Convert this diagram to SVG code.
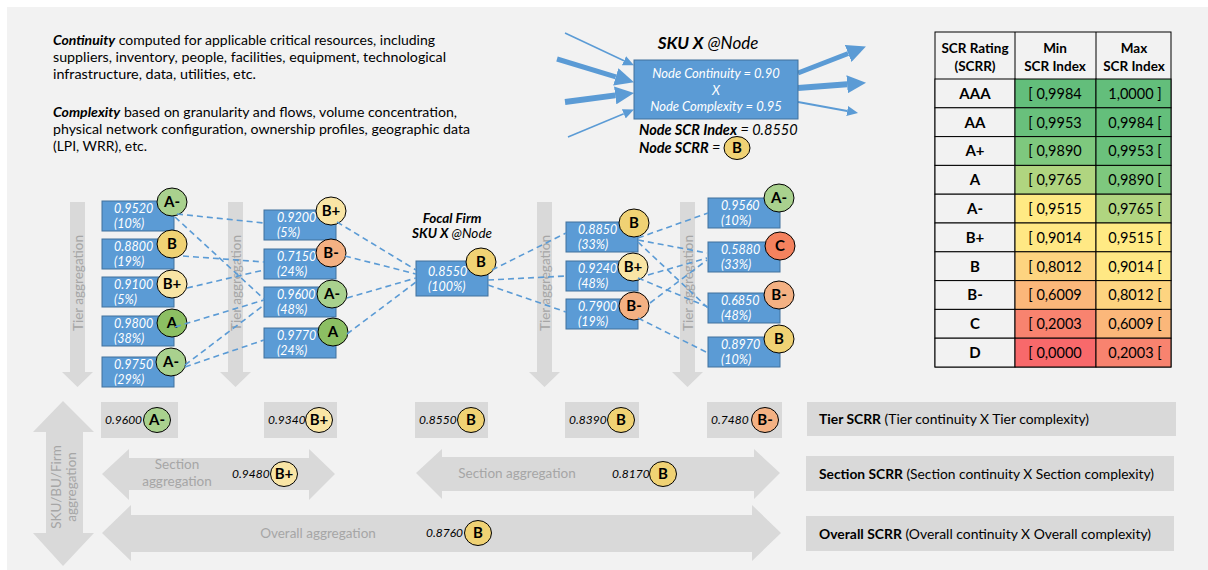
<svg xmlns="http://www.w3.org/2000/svg" width="1208" height="570" viewBox="0 0 1208 570">
  <style>
    text { font-family: Lato, "Open Sans", "Liberation Sans", sans-serif; }
    .para { font-size: 14px; fill: #000; }
    .b { font-weight: bold; }
    .i { font-style: italic; }
    .box { fill: #5b9bd5; stroke: #41719c; stroke-width: 1; }
    .val { font-size: 12.5px; font-style: italic; fill: #fff; }
    .badge { stroke: #000; stroke-width: 1; }
    .lbl { font-size: 15px; font-weight: bold; fill: #000; text-anchor: middle; }
    .am { fill: #a9d18e; }
    .a { fill: #8cbf63; }
    .bp { fill: #f9e5a5; }
    .bb { fill: #f0d274; }
    .bm { fill: #f4b183; }
    .c { fill: #f4825e; }
    .agg { fill: #d9d9d9; }
    .aggt { font-size: 13.5px; fill: #a6a6a6; text-anchor: middle; }
    .dash { stroke: #5b9bd5; stroke-width: 1.6; stroke-dasharray: 6 4; fill: none; }
    .flow { stroke: #5b9bd5; fill: none; }
    .cell { stroke: #000; stroke-width: 1; }
    .hdr { font-size: 13.5px; font-weight: bold; text-anchor: middle; fill: #000; }
    .rt { font-size: 15px; font-weight: bold; text-anchor: middle; fill: #000; }
    .num { font-size: 14.5px; text-anchor: middle; fill: #000; }
    .sv { font-size: 12px; font-style: italic; fill: #000; }
    .gbox { fill: #d9d9d9; }
    .legend { font-size: 14px; fill: #000; }
  </style>
  <defs>
    <marker id="headS" markerUnits="userSpaceOnUse" markerWidth="11" markerHeight="10" refX="0" refY="5" orient="auto">
      <path d="M0,0 L11,5 L0,10 z" fill="#5b9bd5"/>
    </marker>
    <marker id="headL" markerUnits="userSpaceOnUse" markerWidth="19" markerHeight="18" refX="0" refY="9" orient="auto">
      <path d="M0,0 L19,9 L0,18 z" fill="#5b9bd5"/>
    </marker>
  </defs>

  <!-- page -->
  <rect x="0" y="0" width="1208" height="570" fill="#ffffff"/>
  <rect x="7" y="7" width="1201" height="563" fill="#f2f2f2"/>

  <!-- notes -->
  <g id="notes">
    <text class="para" x="53" y="45" textLength="382" lengthAdjust="spacingAndGlyphs"><tspan class="b i">Continuity</tspan> computed for applicable critical resources, including</text>
    <text class="para" x="53" y="62" textLength="393" lengthAdjust="spacingAndGlyphs">suppliers, inventory, people, facilities, equipment, technological</text>
    <text class="para" x="53" y="79" textLength="203" lengthAdjust="spacingAndGlyphs">infrastructure, data, utilities, etc.</text>
    <text class="para" x="53" y="117" textLength="404" lengthAdjust="spacingAndGlyphs"><tspan class="b i">Complexity</tspan> based on granularity and flows, volume concentration,</text>
    <text class="para" x="53" y="134" textLength="417" lengthAdjust="spacingAndGlyphs">physical network configuration, ownership profiles, geographic data</text>
    <text class="para" x="53" y="151" textLength="94" lengthAdjust="spacingAndGlyphs">(LPI, WRR), etc.</text>
  </g>

  <!-- node detail -->
  <g id="sku-node">
    <text x="708" y="49" text-anchor="middle" font-size="17"><tspan class="b i">SKU X</tspan><tspan class="i"> @Node</tspan></text>
    <line class="flow" x1="565" y1="33" x2="624" y2="60.7" stroke-width="1.5" marker-end="url(#headS)"/>
    <line class="flow" x1="557" y1="59" x2="615.8" y2="76.8" stroke-width="5" marker-end="url(#headL)"/>
    <line class="flow" x1="565" y1="102" x2="615.2" y2="95.4" stroke-width="6" marker-end="url(#headL)"/>
    <line class="flow" x1="568" y1="137" x2="623.8" y2="113.8" stroke-width="1.5" marker-end="url(#headS)"/>
    <line class="flow" x1="798" y1="73" x2="848.2" y2="53.5" stroke-width="5" marker-end="url(#headL)"/>
    <line class="flow" x1="798" y1="88" x2="847.1" y2="84.3" stroke-width="6" marker-end="url(#headL)"/>
    <line class="flow" x1="798" y1="102" x2="847.2" y2="111" stroke-width="2" marker-end="url(#headS)"/>
    <rect class="box" x="634" y="60" width="164" height="59"/>
    <text x="716" y="78" text-anchor="middle" font-size="13" font-style="italic" fill="#fff">Node Continuity = 0.90</text>
    <text x="716" y="95" text-anchor="middle" font-size="13" font-style="italic" fill="#fff">X</text>
    <text x="716" y="111" text-anchor="middle" font-size="13" font-style="italic" fill="#fff">Node Complexity = 0.95</text>
    <text x="639" y="135" font-size="14.5"><tspan class="b i">Node SCR Index</tspan><tspan class="i"> = 0.8550</tspan></text>
    <text x="639" y="153" font-size="14.5"><tspan class="b i">Node SCRR</tspan><tspan class="i"> = </tspan></text>
    <ellipse class="badge bb" cx="737" cy="148" rx="13" ry="11.5"/>
    <text class="lbl" x="737" y="153">B</text>
  </g>

  <!-- rating scale -->
  <g id="rating-table">
    <rect class="cell" x="935" y="32" width="236" height="335" fill="#f2f2f2"/>
    <line class="cell" x1="1015" y1="32" x2="1015" y2="367"/>
    <line class="cell" x1="1096" y1="32" x2="1096" y2="367"/>
    <text class="hdr" x="975" y="53">SCR Rating</text>
    <text class="hdr" x="975" y="71">(SCRR)</text>
    <text class="hdr" x="1055" y="53">Min</text>
    <text class="hdr" x="1055" y="71">SCR Index</text>
    <text class="hdr" x="1134" y="53">Max</text>
    <text class="hdr" x="1134" y="71">SCR Index</text>
    <g>
      <rect class="cell" x="935" y="79" width="80" height="28.8" fill="#f2f2f2"/>
      <rect class="cell" x="1015" y="79" width="81" height="28.8" fill="#63be7b"/>
      <rect class="cell" x="1096" y="79" width="75" height="28.8" fill="#63be7b"/>
      <rect class="cell" x="935" y="107.8" width="80" height="28.8" fill="#f2f2f2"/>
      <rect class="cell" x="1015" y="107.8" width="81" height="28.8" fill="#69c07c"/>
      <rect class="cell" x="1096" y="107.8" width="75" height="28.8" fill="#64bf7b"/>
      <rect class="cell" x="935" y="136.6" width="80" height="28.8" fill="#f2f2f2"/>
      <rect class="cell" x="1015" y="136.6" width="81" height="28.8" fill="#7ec87e"/>
      <rect class="cell" x="1096" y="136.6" width="75" height="28.8" fill="#6bc17c"/>
      <rect class="cell" x="935" y="165.4" width="80" height="28.8" fill="#f2f2f2"/>
      <rect class="cell" x="1015" y="165.4" width="81" height="28.8" fill="#b0d580"/>
      <rect class="cell" x="1096" y="165.4" width="75" height="28.8" fill="#7ec87e"/>
      <rect class="cell" x="935" y="194.2" width="80" height="28.8" fill="#f2f2f2"/>
      <rect class="cell" x="1015" y="194.2" width="81" height="28.8" fill="#ffea84"/>
      <rect class="cell" x="1096" y="194.2" width="75" height="28.8" fill="#b0d580"/>
      <rect class="cell" x="935" y="223" width="80" height="28.8" fill="#f2f2f2"/>
      <rect class="cell" x="1015" y="223" width="81" height="28.8" fill="#ffe884"/>
      <rect class="cell" x="1096" y="223" width="75" height="28.8" fill="#ffea84"/>
      <rect class="cell" x="935" y="251.8" width="80" height="28.8" fill="#f2f2f2"/>
      <rect class="cell" x="1015" y="251.8" width="81" height="28.8" fill="#fdd480"/>
      <rect class="cell" x="1096" y="251.8" width="75" height="28.8" fill="#ffe884"/>
      <rect class="cell" x="935" y="280.6" width="80" height="28.8" fill="#f2f2f2"/>
      <rect class="cell" x="1015" y="280.6" width="81" height="28.8" fill="#fbb77a"/>
      <rect class="cell" x="1096" y="280.6" width="75" height="28.8" fill="#fdd480"/>
      <rect class="cell" x="935" y="309.4" width="80" height="28.8" fill="#f2f2f2"/>
      <rect class="cell" x="1015" y="309.4" width="81" height="28.8" fill="#f8836f"/>
      <rect class="cell" x="1096" y="309.4" width="75" height="28.8" fill="#fbb77a"/>
      <rect class="cell" x="935" y="338.2" width="80" height="28.8" fill="#f2f2f2"/>
      <rect class="cell" x="1015" y="338.2" width="81" height="28.8" fill="#f8696b"/>
      <rect class="cell" x="1096" y="338.2" width="75" height="28.8" fill="#f8836f"/>
    </g>
    <g>
      <text class="rt" x="975" y="98.8">AAA</text>
      <text class="num" x="1055" y="98.8">[ 0,9984</text>
      <text class="num" x="1135" y="98.8">1,0000 ]</text>
      <text class="rt" x="975" y="127.6">AA</text>
      <text class="num" x="1055" y="127.6">[ 0,9953</text>
      <text class="num" x="1135" y="127.6">0,9984 [</text>
      <text class="rt" x="975" y="156.4">A+</text>
      <text class="num" x="1055" y="156.4">[ 0,9890</text>
      <text class="num" x="1135" y="156.4">0,9953 [</text>
      <text class="rt" x="975" y="185.2">A</text>
      <text class="num" x="1055" y="185.2">[ 0,9765</text>
      <text class="num" x="1135" y="185.2">0,9890 [</text>
      <text class="rt" x="975" y="214">A-</text>
      <text class="num" x="1055" y="214">[ 0,9515</text>
      <text class="num" x="1135" y="214">0,9765 [</text>
      <text class="rt" x="975" y="242.8">B+</text>
      <text class="num" x="1055" y="242.8">[ 0,9014</text>
      <text class="num" x="1135" y="242.8">0,9515 [</text>
      <text class="rt" x="975" y="271.6">B</text>
      <text class="num" x="1055" y="271.6">[ 0,8012</text>
      <text class="num" x="1135" y="271.6">0,9014 [</text>
      <text class="rt" x="975" y="300.4">B-</text>
      <text class="num" x="1055" y="300.4">[ 0,6009</text>
      <text class="num" x="1135" y="300.4">0,8012 [</text>
      <text class="rt" x="975" y="329.2">C</text>
      <text class="num" x="1055" y="329.2">[ 0,2003</text>
      <text class="num" x="1135" y="329.2">0,6009 [</text>
      <text class="rt" x="975" y="358">D</text>
      <text class="num" x="1055" y="358">[ 0,0000</text>
      <text class="num" x="1135" y="358">0,2003 [</text>
    </g>
  </g>

  <!-- tier aggregation arrows -->
  <g id="tier-arrows">
    <polygon class="agg" points="70,202 85,202 85,372 93,372 77.5,387 62,372 70,372"/>
    <text class="aggt" font-size="14" transform="translate(82.5,283) rotate(-90)">Tier aggregation</text>
    <polygon class="agg" points="228,202 243,202 243,372 251,372 235.5,387 220,372 228,372"/>
    <text class="aggt" font-size="14" transform="translate(240.5,283) rotate(-90)">Tier aggregation</text>
    <polygon class="agg" points="537,202 552,202 552,372 560,372 544.5,387 529,372 537,372"/>
    <text class="aggt" font-size="14" transform="translate(549.5,283) rotate(-90)">Tier aggregation</text>
    <polygon class="agg" points="680,202 695,202 695,372 703,372 687.5,387 672,372 680,372"/>
    <text class="aggt" font-size="14" transform="translate(692.5,283) rotate(-90)">Tier aggregation</text>
  </g>

  <!-- tier 2 upstream -->
  <g id="n-9520"><rect class="box" x="102" y="201" width="72" height="30"/><text class="val" x="114" y="213">0.9520</text><text class="val" x="114" y="227.5">(10%)</text><ellipse class="badge am" cx="172" cy="202" rx="15" ry="14"/><text class="lbl" x="172" y="207">A-</text></g>
  <g id="n-8800"><rect class="box" x="102" y="239" width="72" height="30"/><text class="val" x="114" y="251">0.8800</text><text class="val" x="114" y="265.5">(19%)</text><ellipse class="badge bb" cx="172" cy="244" rx="15" ry="14"/><text class="lbl" x="172" y="249">B</text></g>
  <g id="n-9100"><rect class="box" x="102" y="277" width="72" height="30"/><text class="val" x="114" y="289">0.9100</text><text class="val" x="114" y="303.5">(5%)</text><ellipse class="badge bp" cx="172" cy="284" rx="15" ry="14"/><text class="lbl" x="172" y="289">B+</text></g>
  <g id="n-9800"><rect class="box" x="102" y="316" width="72" height="30"/><text class="val" x="114" y="328">0.9800</text><text class="val" x="114" y="342.5">(38%)</text><ellipse class="badge a" cx="172" cy="323" rx="15" ry="14"/><text class="lbl" x="172" y="328">A</text></g>
  <g id="n-9750"><rect class="box" x="102" y="357" width="72" height="30"/><text class="val" x="114" y="369">0.9750</text><text class="val" x="114" y="383.5">(29%)</text><ellipse class="badge am" cx="171" cy="362" rx="15" ry="14"/><text class="lbl" x="171" y="367">A-</text></g>

  <!-- tier 1 upstream -->
  <g id="n-9200"><rect class="box" x="264" y="210" width="72" height="30"/><text class="val" x="277" y="222">0.9200</text><text class="val" x="277" y="236.5">(5%)</text><ellipse class="badge bp" cx="331" cy="211" rx="15" ry="14"/><text class="lbl" x="331" y="216">B+</text></g>
  <g id="n-7150"><rect class="box" x="264" y="249" width="72" height="30"/><text class="val" x="277" y="261">0.7150</text><text class="val" x="277" y="275.5">(24%)</text><ellipse class="badge bm" cx="331" cy="253" rx="15" ry="14"/><text class="lbl" x="331" y="258">B-</text></g>
  <g id="n-9600"><rect class="box" x="264" y="287" width="72" height="30"/><text class="val" x="277" y="299">0.9600</text><text class="val" x="277" y="313.5">(48%)</text><ellipse class="badge am" cx="332" cy="294" rx="15" ry="14"/><text class="lbl" x="332" y="299">A-</text></g>
  <g id="n-9770"><rect class="box" x="264" y="328" width="72" height="30"/><text class="val" x="277" y="340">0.9770</text><text class="val" x="277" y="354.5">(24%)</text><ellipse class="badge a" cx="333" cy="332" rx="15" ry="14"/><text class="lbl" x="333" y="337">A</text></g>

  <!-- focal firm -->
  <g id="focal">
    <text x="452" y="223" text-anchor="middle" font-size="13.5" class="b i">Focal Firm</text>
    <text x="452" y="238" text-anchor="middle" font-size="13.5"><tspan class="b i">SKU X</tspan><tspan class="i"> @Node</tspan></text>
    <rect class="box" x="416" y="261" width="72" height="35"/>
    <text class="val" x="428" y="276">0.8550</text>
    <text class="val" x="428" y="291">(100%)</text>
    <ellipse class="badge bb" cx="481" cy="262" rx="15" ry="14"/><text class="lbl" x="481" y="267">B</text>
  </g>

  <!-- tier 1 downstream -->
  <g id="n-8850"><rect class="box" x="566" y="222" width="72" height="30"/><text class="val" x="578" y="234">0.8850</text><text class="val" x="578" y="248.5">(33%)</text><ellipse class="badge bb" cx="634" cy="223" rx="15" ry="14"/><text class="lbl" x="634" y="228">B</text></g>
  <g id="n-9240"><rect class="box" x="566" y="261" width="72" height="30"/><text class="val" x="578" y="273">0.9240</text><text class="val" x="578" y="287.5">(48%)</text><ellipse class="badge bp" cx="633" cy="267" rx="15" ry="14"/><text class="lbl" x="633" y="272">B+</text></g>
  <g id="n-7900"><rect class="box" x="566" y="299" width="72" height="30"/><text class="val" x="578" y="311">0.7900</text><text class="val" x="578" y="325.5">(19%)</text><ellipse class="badge bm" cx="634" cy="306" rx="15" ry="14"/><text class="lbl" x="634" y="311">B-</text></g>

  <!-- tier 2 downstream -->
  <g id="n-9560"><rect class="box" x="708" y="198" width="72" height="30"/><text class="val" x="721" y="210">0.9560</text><text class="val" x="721" y="224.5">(10%)</text><ellipse class="badge am" cx="779" cy="198" rx="15" ry="14"/><text class="lbl" x="779" y="203">A-</text></g>
  <g id="n-5880"><rect class="box" x="708" y="242" width="72" height="30"/><text class="val" x="721" y="254">0.5880</text><text class="val" x="721" y="268.5">(33%)</text><ellipse class="badge c" cx="780" cy="246" rx="15" ry="14"/><text class="lbl" x="780" y="251">C</text></g>
  <g id="n-6850"><rect class="box" x="708" y="293" width="72" height="30"/><text class="val" x="721" y="305">0.6850</text><text class="val" x="721" y="319.5">(48%)</text><ellipse class="badge bm" cx="779" cy="295" rx="15" ry="14"/><text class="lbl" x="779" y="300">B-</text></g>
  <g id="n-8970"><rect class="box" x="708" y="337" width="72" height="30"/><text class="val" x="721" y="349">0.8970</text><text class="val" x="721" y="363.5">(10%)</text><ellipse class="badge bb" cx="779" cy="339" rx="15" ry="14"/><text class="lbl" x="779" y="344">B</text></g>

  <!-- flows between nodes -->
  <g id="connectors">
    <line class="dash" x1="177" y1="214" x2="264" y2="223"/>
    <line class="dash" x1="175" y1="217" x2="264" y2="299"/>
    <line class="dash" x1="183" y1="256" x2="264" y2="262"/>
    <line class="dash" x1="187" y1="288" x2="264" y2="270"/>
    <line class="dash" x1="175" y1="327" x2="264" y2="300"/>
    <line class="dash" x1="185" y1="365" x2="264" y2="305"/>
    <line class="dash" x1="185" y1="367" x2="264" y2="340"/>
    <line class="dash" x1="337" y1="222" x2="416" y2="270"/>
    <line class="dash" x1="345" y1="256" x2="416" y2="274"/>
    <line class="dash" x1="347" y1="298" x2="416" y2="278"/>
    <line class="dash" x1="347" y1="334" x2="416" y2="282"/>
    <line class="dash" x1="492" y1="270" x2="566" y2="233"/>
    <line class="dash" x1="488" y1="280" x2="566" y2="276"/>
    <line class="dash" x1="488" y1="285" x2="566" y2="312"/>
    <line class="dash" x1="638" y1="238" x2="708" y2="213"/>
    <line class="dash" x1="638" y1="240" x2="707" y2="253"/>
    <line class="dash" x1="638" y1="242" x2="708" y2="308"/>
    <line class="dash" x1="648" y1="275" x2="707" y2="258"/>
    <line class="dash" x1="638" y1="278" x2="708" y2="307"/>
    <line class="dash" x1="650" y1="303" x2="707" y2="260"/>
    <line class="dash" x1="638" y1="318" x2="708" y2="353"/>
  </g>

  <!-- tier scores -->
  <g id="tier-scores">
    <rect class="gbox" x="101" y="402" width="77" height="36"/>
    <text class="sv" x="105" y="424">0.9600</text>
    <ellipse class="badge am" cx="157" cy="420" rx="13.5" ry="12.5"/><text class="lbl" x="157" y="425">A-</text>
    <rect class="gbox" x="264" y="402" width="73" height="36"/>
    <text class="sv" x="268" y="424">0.9340</text>
    <ellipse class="badge bp" cx="319" cy="420" rx="13.5" ry="12.5"/><text class="lbl" x="319" y="425">B+</text>
    <rect class="gbox" x="415" y="402" width="73" height="36"/>
    <text class="sv" x="419" y="424">0.8550</text>
    <ellipse class="badge bb" cx="471" cy="420" rx="13.5" ry="12.5"/><text class="lbl" x="471" y="425">B</text>
    <rect class="gbox" x="565" y="402" width="74" height="36"/>
    <text class="sv" x="569" y="424">0.8390</text>
    <ellipse class="badge bb" cx="621" cy="420" rx="13.5" ry="12.5"/><text class="lbl" x="621" y="425">B</text>
    <rect class="gbox" x="707" y="402" width="75" height="36"/>
    <text class="sv" x="711" y="424">0.7480</text>
    <ellipse class="badge bm" cx="765" cy="420" rx="13.5" ry="12.5"/><text class="lbl" x="765" y="425">B-</text>
  </g>

  <!-- firm-level aggregation -->
  <g id="firm-arrow">
    <polygon class="agg" points="63,401 94,432 83,432 83,533 94,533 63,566 33,533 46,533 46,432 33,432"/>
    <text class="aggt" font-size="14" transform="translate(61,487) rotate(-90)">SKU/BU/Firm</text>
    <text class="aggt" font-size="14" transform="translate(75.5,487) rotate(-90)">aggregation</text>
  </g>

  <!-- section aggregation -->
  <g id="section-up">
    <polygon class="agg" points="102,474 129,449 129,458 309,458 309,449 335,474 309,500 309,490 129,490 129,500"/>
    <text class="aggt" x="177" y="469">Section</text>
    <text class="aggt" x="177" y="486">aggregation</text>
    <text class="sv" x="232" y="478">0.9480</text>
    <ellipse class="badge bp" cx="284" cy="474" rx="13.5" ry="12.5"/><text class="lbl" x="284" y="479">B+</text>
  </g>
  <g id="section-down">
    <polygon class="agg" points="416,473 442,449 442,457 754,457 754,449 780,473 754,499 754,491 442,491 442,499"/>
    <text class="aggt" x="517" y="478">Section aggregation</text>
    <text class="sv" x="612" y="478">0.8170</text>
    <ellipse class="badge bb" cx="663" cy="474" rx="13.5" ry="12.5"/><text class="lbl" x="663" y="479">B</text>
  </g>

  <!-- overall aggregation -->
  <g id="overall">
    <polygon class="agg" points="102,533 131,505 131,515 752,515 752,505 781,533 752,561 752,552 131,552 131,561"/>
    <text class="aggt" x="318" y="538">Overall aggregation</text>
    <text class="sv" x="426" y="537">0.8760</text>
    <ellipse class="badge bb" cx="478" cy="533" rx="13.5" ry="12.5"/><text class="lbl" x="478" y="538">B</text>
  </g>

  <!-- legend -->
  <g id="legend">
    <rect class="gbox" x="807" y="402" width="369" height="34"/>
    <text class="legend" x="819" y="424" textLength="270" lengthAdjust="spacingAndGlyphs"><tspan class="b">Tier SCRR</tspan> (Tier continuity X Tier complexity)</text>
    <rect class="gbox" x="806" y="456" width="368" height="35"/>
    <text class="legend" x="819" y="479" textLength="335" lengthAdjust="spacingAndGlyphs"><tspan class="b">Section SCRR</tspan> (Section continuity X Section complexity)</text>
    <rect class="gbox" x="806" y="516" width="368" height="35"/>
    <text class="legend" x="819" y="539" textLength="332" lengthAdjust="spacingAndGlyphs"><tspan class="b">Overall SCRR</tspan> (Overall continuity X Overall complexity)</text>
  </g>
</svg>
